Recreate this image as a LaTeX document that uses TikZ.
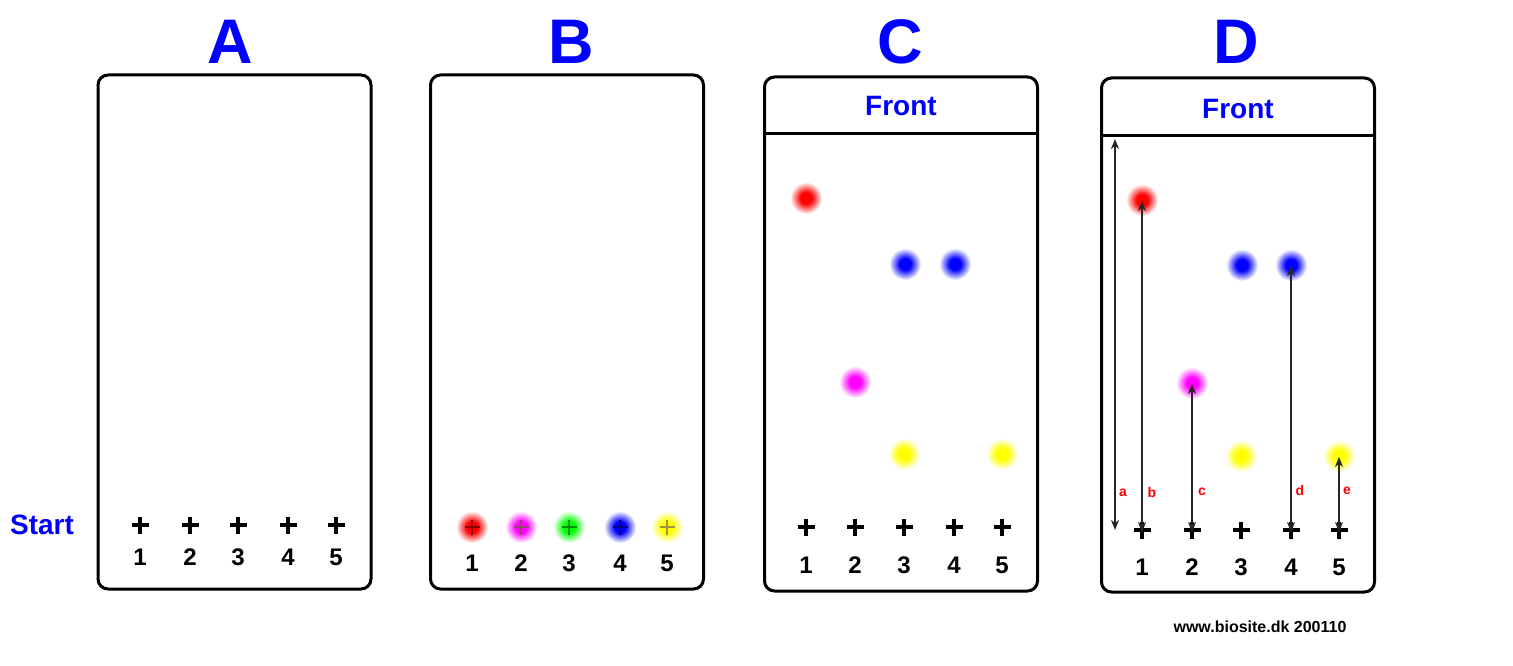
\documentclass[tikz,border=0pt]{standalone}
\usepackage{fontspec}
\setmainfont{Liberation Sans}
\usetikzlibrary{arrows.meta}
\pgfdeclareradialshading{spotred}{\pgfpoint{0bp}{0bp}}{color(0bp)=(red); color(9bp)=(red); color(25bp)=(white); color(50bp)=(white)}
\pgfdeclareradialshading{spotmagenta}{\pgfpoint{0bp}{0bp}}{color(0bp)=(magenta); color(9bp)=(magenta); color(25bp)=(white); color(50bp)=(white)}
\pgfdeclareradialshading{spotgreen}{\pgfpoint{0bp}{0bp}}{color(0bp)=(green); color(9bp)=(green); color(25bp)=(white); color(50bp)=(white)}
\pgfdeclareradialshading{spotblue}{\pgfpoint{0bp}{0bp}}{color(0bp)=(blue); color(9bp)=(blue); color(25bp)=(white); color(50bp)=(white)}
\pgfdeclareradialshading{spotyellow}{\pgfpoint{0bp}{0bp}}{color(0bp)=(yellow); color(9bp)=(yellow); color(25bp)=(white); color(50bp)=(white)}
\begin{document}
\begin{tikzpicture}[x=1pt,y=-1pt,
  panel/.style={draw, line width=3pt, rounded corners=10pt, minimum width=273pt, minimum height=514pt, inner sep=0pt},
  paneltitle/.style={text=blue, font=\fontsize{63}{63}\selectfont\bfseries},
  bluelabel/.style={text=blue, font=\fontsize{28}{28}\selectfont\bfseries},
  num/.style={font=\fontsize{24}{24}\selectfont\bfseries},
  plusline/.style={line width=3.2pt},
  spot/.style={circle, minimum size=32pt, inner sep=0pt, shade},
  dblarrow/.style={{Stealth[length=10pt,width=8pt]}-{Stealth[length=10pt,width=8pt]}, line width=1.8pt, draw=black!85, shorten <=1pt, shorten >=1pt},
  redlabel/.style={text=red, font=\fontsize{14}{14}\selectfont\bfseries},
  credit/.style={font=\fontsize{16}{16}\selectfont\bfseries}
]
\useasboundingbox (0,0) rectangle (1513,666);

% panels
\node[panel] (pA) at (234.5,332) {};
\node[panel] (pB) at (567,332) {};
\node[panel] (pC) at (901,334) {};
\node[panel] (pD) at (1238,335) {};
\draw[line width=3pt] (765,134) -- (1037,134);
\draw[line width=3pt] (1102,136) -- (1374,136);

% titles
\node[paneltitle] (tA) at (230,42) {A};
\node[paneltitle] (tB) at (571,42) {B};
\node[paneltitle] (tC) at (900,42) {C};
\node[paneltitle] (tD) at (1236,42) {D};
\node[bluelabel] (start) at (42,525) {Start};
\node[bluelabel] (frontC) at (901,106) {Front};
\node[bluelabel] (frontD) at (1238,109) {Front};

% panel A
\foreach \i/\x in {1/140,2/190,3/238,4/288,5/336} {
  \coordinate (a\i) at (\x,525);
  \draw[plusline] (a\i) +(-8.5,0) -- +(8.5,0) (a\i) +(0,-8.5) -- +(0,8.5);
  \node[num] (na\i) at (\x,557) {\i};
}

% panel B
\foreach \i/\x/\c in {1/472/red,2/521/magenta,3/569/green,4/620/blue,5/667/yellow} {
  \node[spot, shading=spot\c] (bs\i) at (\x,527) {};
  \draw[line width=2.4pt, color=\c!55!black] (bs\i.center) +(-7.5,0) -- +(7.5,0) (bs\i.center) +(0,-7.5) -- +(0,7.5);
  \node[num] (nb\i) at (\x,563) {\i};
}

% panel C
\node[spot, shading=spotred] (cR) at (806,198) {};
\node[spot, shading=spotblue] (cB1) at (905,264) {};
\node[spot, shading=spotblue] (cB2) at (955,264) {};
\node[spot, shading=spotmagenta] (cM) at (855,382) {};
\node[spot, shading=spotyellow] (cY1) at (904,454) {};
\node[spot, shading=spotyellow] (cY2) at (1002,454) {};
\foreach \i/\x in {1/806,2/855,3/904,4/954,5/1002} {
  \coordinate (c\i) at (\x,527);
  \draw[plusline] (c\i) +(-8.5,0) -- +(8.5,0) (c\i) +(0,-8.5) -- +(0,8.5);
  \node[num] (nc\i) at (\x,565) {\i};
}

% panel D
\node[spot, shading=spotred] (dR) at (1142,200) {};
\node[spot, shading=spotblue] (dB1) at (1242,265) {};
\node[spot, shading=spotblue] (dB2) at (1291,265) {};
\node[spot, shading=spotmagenta] (dM) at (1192,383) {};
\node[spot, shading=spotyellow] (dY1) at (1241,456) {};
\node[spot, shading=spotyellow] (dY2) at (1339,456) {};
\foreach \i/\x in {1/1142,2/1192,3/1241,4/1291,5/1339} {
  \coordinate (d\i) at (\x,530);
  \draw[plusline] (d\i) +(-8.5,0) -- +(8.5,0) (d\i) +(0,-8.5) -- +(0,8.5);
  \node[num] (nd\i) at (\x,567) {\i};
}
\coordinate (aTop) at (1115,138);
\coordinate (aBot) at (1115,531);
\draw[dblarrow] (aTop) -- (aBot);
\draw[dblarrow] (dR.center) -- ([yshift=-3pt]d1);
\draw[dblarrow] (dM.center) -- ([yshift=-3pt]d2);
\draw[dblarrow] (dB2.center) -- ([yshift=-3pt]d4);
\draw[dblarrow] (dY2.center) -- ([yshift=-3pt]d5);
\node[redlabel] (la) at (1123,493) {a};
\node[redlabel] (lb) at (1152,492) {b};
\node[redlabel] (lc) at (1202,492) {c};
\node[redlabel] (ld) at (1300,490) {d};
\node[redlabel] (le) at (1347,491) {e};

\node[credit] (cr) at (1260,627) {www.biosite.dk 200110};
\end{tikzpicture}
\end{document}
